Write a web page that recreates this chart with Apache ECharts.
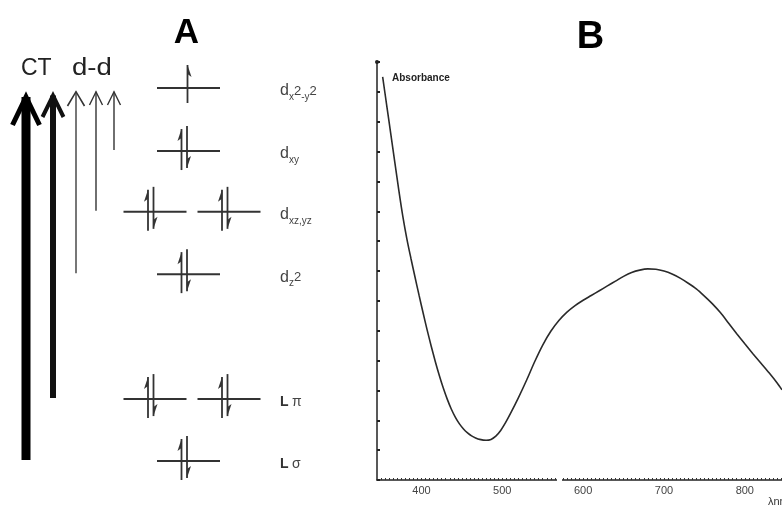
<!DOCTYPE html>
<html style="height: 100%">
<head>
<meta charset="utf-8">
</head>
<body style="height: 100%; margin: 0; background: #fff">
<div id="container" style="width: 782px; height: 506px"></div>
<script type="text/javascript" src="https://cdn.jsdelivr.net/npm/echarts@6/dist/echarts.min.js"></script>
<script type="text/javascript">
// A: orbital energy levels (relative units, Lσ = 0, dx2-y2 = 10)
var levelNames = ['Lσ', 'Lπ', 'dz2', 'dxz,yz', 'dxy', 'dx2-y2'];
var levelEnergy = [0, 1.66, 5.01, 6.68, 8.31, 10];
var levelOrbitals = [1, 2, 1, 2, 1, 1];
var levelElectrons = [2, 2, 2, 2, 2, 1];

// transitions drawn as arrows, all ending on dx2-y2
var transFrom = ['Lσ', 'Lπ', 'dz2', 'dxz,yz', 'dxy'];
var transTo = 'dx2-y2';
var transType = ['CT', 'CT', 'd-d', 'd-d', 'd-d'];

// B: absorbance spectrum
var wavelength = [352, 357, 362, 367, 372, 377, 382, 387, 392, 397, 402, 407, 412, 417, 422, 427, 432, 437, 442, 447, 452, 457, 462, 467, 472, 480,
  486, 492, 498, 504, 510, 520, 530, 540, 550, 560, 570, 580, 590, 600, 610, 620, 630, 640, 650, 660, 670, 680, 690, 700,
  710, 720, 730, 740, 750, 760, 770, 780, 790, 800, 810, 820, 830, 840, 846];
var absorbance = [13.5, 12.55, 11.6, 10.65, 9.7, 8.82, 8.07, 7.42, 6.8, 6.19, 5.6, 5.03, 4.49, 3.98, 3.51, 3.08, 2.7, 2.37, 2.1, 1.88, 1.71, 1.58, 1.48, 1.41, 1.36, 1.33,
  1.36, 1.47, 1.66, 1.92, 2.22, 2.76, 3.34, 3.96, 4.52, 4.98, 5.34, 5.62, 5.84, 6.02, 6.18, 6.34, 6.5, 6.66, 6.82, 6.95, 7.03, 7.07, 7.06, 7.0,
  6.9, 6.76, 6.59, 6.4, 6.16, 5.9, 5.6, 5.25, 4.9, 4.56, 4.23, 3.91, 3.59, 3.25, 3.02];
var xLabels = [400, 500, 600, 700, 800];

// layout / style
var FONT = '"Liberation Sans", Arial, sans-serif';
var INK = '#333';
var SINGLE_X = 188.5, PAIR_X = [155, 229], HALF = 31.5, LABEL_X = 280;
var ARROW_X = [26, 53, 76, 96, 114];
var ARROW_W = [9, 6, 2, 1.4, 1.4];
var HEAD_HW = [13.5, 10.5, 8.5, 6.5, 6.5];
var HEAD_L = [35, 27, 16, 15, 15];
var HEAD_LW = [5, 4, 1.6, 1.4, 1.4];
var SHAFT_C = ['#000', '#111', '#777', '#333', '#333'];
var HEAD_C = ['#000', '#111', '#333', '#333', '#333'];
var labelRich = {
  'Lσ': '{l|L} {g|σ}',
  'Lπ': '{l|L} {g|π}',
  'dz2': '{d|d}{s|z}{n|2}',
  'dxz,yz': '{d|d}{s|xz,yz}',
  'dxy': '{d|d}{s|xy}',
  'dx2-y2': '{d|d}{s|x}{n|2}{s|-y}{n|2}'
};
var richStyles = {
  d: {fontSize: 16, fontFamily: FONT, fill: '#444', lineHeight: 22},
  s: {fontSize: 10, fontFamily: FONT, fill: '#444', lineHeight: 10, verticalAlign: 'bottom'},
  n: {fontSize: 13, fontFamily: FONT, fill: '#444', lineHeight: 22},
  l: {fontSize: 14, fontFamily: FONT, fill: '#333', fontWeight: 'bold', lineHeight: 22},
  g: {fontSize: 14, fontFamily: FONT, fill: '#444', lineHeight: 22}
};

function halfArrow(x, yFrom, yTo, side) {
  var dir = yTo < yFrom ? 1 : -1;
  var back = yTo + dir * 12;
  return [
    {type: 'line', shape: {x1: x, y1: yFrom, x2: x, y2: yTo}, style: {stroke: INK, lineWidth: 1.8}},
    {type: 'polygon', shape: {points: [[x, yTo], [x + side * 4, back], [x, back - dir * 3]]}, style: {fill: INK}}
  ];
}

function renderLevel(params, api) {
  var i = params.dataIndex;
  var y = api.coord([0, api.value(1)])[1];
  var xs = levelOrbitals[i] === 2 ? PAIR_X : [SINGLE_X];
  var kids = [];
  xs.forEach(function (cx) {
    kids.push({type: 'line', shape: {x1: cx - HALF, y1: y, x2: cx + HALF, y2: y}, style: {stroke: INK, lineWidth: 2}});
    if (levelElectrons[i] === 1) {
      kids = kids.concat(halfArrow(cx - 1, y + 15, y - 23, 1));
    } else {
      kids = kids.concat(halfArrow(cx - 7, y + 19, y - 22, -1));
      kids = kids.concat(halfArrow(cx - 1.5, y - 25, y + 17, 1));
    }
  });
  kids.push({
    type: 'text', x: LABEL_X, y: y + 3,
    style: {text: labelRich[levelNames[i]], rich: richStyles, textAlign: 'left', align: 'left',
      textVerticalAlign: 'middle', verticalAlign: 'middle'}
  });
  return {type: 'group', children: kids};
}

function renderTransition(params, api) {
  var k = params.dataIndex;
  var yb = api.coord([0, api.value(0)])[1] - 1;
  var yt = api.coord([0, api.value(1)])[1] + 2;
  var x = ARROW_X[k], w = ARROW_W[k], hw = HEAD_HW[k], hl = HEAD_L[k], lw = HEAD_LW[k];
  var tipOff = (lw / 2) / Math.sin(Math.atan(hw / hl));
  return {type: 'group', children: [
    {type: 'rect', shape: {x: x - w / 2, y: yt + tipOff, width: w, height: yb - yt - tipOff}, style: {fill: SHAFT_C[k]}},
    {type: 'polyline', shape: {points: [[x - hw, yt + hl], [x, yt + tipOff], [x + hw, yt + hl]]},
      style: {stroke: HEAD_C[k], lineWidth: lw, fill: null, lineJoin: 'miter'}}
  ]};
}

var levelData = levelNames.map(function (n, i) { return [i, levelEnergy[i]]; });
var transData = transFrom.map(function (n) {
  return [levelEnergy[levelNames.indexOf(n)], levelEnergy[levelNames.indexOf(transTo)]];
});
var minorTicks = [];
for (var t = 350; t <= 845; t += 5) minorTicks.push(t);

var dom = document.getElementById('container');
var myChart = echarts.init(dom, null, {renderer: 'canvas'});

var option = {
  backgroundColor: '#fff',
  animation: false,
  grid: [
    {left: 0, top: 88, width: 360, height: 373},
    {left: 377, top: 62, right: 0, bottom: 26}
  ],
  xAxis: [
    {gridIndex: 0, type: 'value', min: 0, max: 360, show: false},
    {
      gridIndex: 1, type: 'value', min: 345, max: 846,
      axisLine: {lineStyle: {color: '#222', width: 1.5}},
      axisTick: {inside: true, length: 2, customValues: minorTicks, lineStyle: {color: '#333', width: 1}},
      axisLabel: {customValues: xLabels, color: '#444', fontSize: 11, fontFamily: FONT, margin: 5},
      splitLine: {show: false}
    }
  ],
  yAxis: [
    {gridIndex: 0, type: 'value', min: 0, max: 10, show: false},
    {
      gridIndex: 1, type: 'value', min: 0, max: 14, interval: 1,
      axisLine: {show: true, symbol: ['none', 'circle'], symbolSize: [4, 4], lineStyle: {color: '#222', width: 1.5}},
      axisTick: {show: true, inside: true, length: 3, lineStyle: {color: '#222', width: 2}},
      axisLabel: {show: false},
      splitLine: {show: false}
    }
  ],
  graphic: [
    {type: 'text', x: 186.5, y: 33, style: {text: 'A', font: 'bold 35px ' + FONT, fill: '#000', textAlign: 'center', align: 'center', textVerticalAlign: 'middle', verticalAlign: 'middle'}},
    {type: 'text', x: 590.5, y: 38, style: {text: 'B', font: 'bold 38px ' + FONT, fill: '#000', textAlign: 'center', align: 'center', textVerticalAlign: 'middle', verticalAlign: 'middle'}},
    {type: 'text', x: 21, y: 69, style: {text: transType[0], font: '23px ' + FONT, fill: '#222', textAlign: 'left', align: 'left', textVerticalAlign: 'middle', verticalAlign: 'middle'}},
    {type: 'text', x: 72, y: 69, scaleX: 1.2, style: {text: transType[2], font: '23px ' + FONT, fill: '#222', textAlign: 'left', align: 'left', textVerticalAlign: 'middle', verticalAlign: 'middle'}},
    {type: 'text', x: 392, y: 78, style: {text: 'Absorbance', font: 'bold 10px ' + FONT, fill: '#222', textAlign: 'left', align: 'left', textVerticalAlign: 'middle', verticalAlign: 'middle'}},
    {type: 'text', x: 768, y: 496, style: {text: 'λnm', font: '11px ' + FONT, fill: '#333', textAlign: 'left', align: 'left', textVerticalAlign: 'top', verticalAlign: 'top'}},
    {type: 'rect', x: 557, y: 475, shape: {width: 5, height: 8}, style: {fill: '#fff'}, z: 100}
  ],
  series: [
    {
      type: 'custom', name: 'transitions', xAxisIndex: 0, yAxisIndex: 0,
      renderItem: renderTransition, data: transData, silent: true
    },
    {
      type: 'custom', name: 'levels', xAxisIndex: 0, yAxisIndex: 0,
      renderItem: renderLevel, data: levelData, silent: true
    },
    {
      type: 'line', name: 'Absorbance', xAxisIndex: 1, yAxisIndex: 1,
      data: wavelength.map(function (w, i) { return [w, absorbance[i]]; }),
      smooth: 0.3, showSymbol: false, silent: true,
      lineStyle: {color: '#2a2a2a', width: 1.6}
    }
  ]
};

myChart.setOption(option, true);
</script>
</body>
</html>
